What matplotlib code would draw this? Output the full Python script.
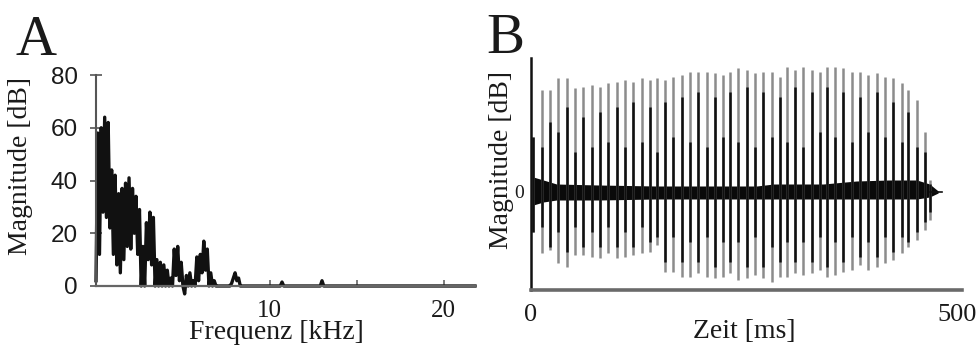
import numpy as np
import matplotlib
matplotlib.use("Agg")
import matplotlib.pyplot as plt

SERIF = "Liberation Serif"
SANS = "Liberation Sans"
TXT = "#1a1a1a"

# (A) magnitude spectrum, 0.1 kHz bins from 0 to 8.5 kHz
spec_db = [2, 58, 12, 60, 28, 64, 26, 62, 22, 44,
           12, 42, 8, 35, 5, 37, 10, 39, 15, 41,
           14, 37, 20, 34, 12, 29, 0, 15, 0, 24,
           10, 28, 8, 26, 0, 10, 0, 9, 0, 8,
           0, 6, 0, 3, 0, 14, 4, 15, 2, 9,
           0, -3, 4, 0, 5, 0, 2, 0, 11, 2,
           12, 5, 17, 6, 14, 0, 5, 0, 2, 0,
           0, 0, 0, 0, 0, 0, 0, 0, 1, 3,
           5, 2, 3, 0, 0, 0]
# sparse high-frequency part
tail_khz = [8.6, 10.6, 10.7, 10.8, 12.9, 13.0, 13.1, 21.8]
tail_db = [0, 0, 1.5, 0, 0, 2, 0, 0]

# (B) oscillogram: pulse times [ms], positive / negative peaks
pulse_ms = [2.3, 12.5, 22.3, 32.1, 41.9, 51.6, 61.4, 71.2, 81.0, 90.8,
            100.5, 110.3, 120.1, 129.9, 139.7, 147.5, 157.3, 167.0, 176.8, 186.6,
            196.4, 206.2, 216.0, 225.7, 233.6, 243.3, 253.1, 262.9, 272.7, 282.5,
            292.3, 300.1, 309.9, 319.6, 329.4, 339.2, 347.0, 356.8, 366.6, 376.4,
            386.2, 395.9, 405.7, 415.5, 425.3, 435.1, 442.9, 452.7, 462.4, 468.3]
pulse_pos = [55, 102, 102, 114, 114, 104, 105, 107, 105, 109,
             110, 112, 110, 114, 112, 114, 112, 115, 117, 120,
             120, 120, 119, 117, 120, 124, 122, 119, 120, 120,
             115, 125, 122, 125, 122, 120, 125, 125, 124, 120,
             120, 117, 119, 115, 114, 109, 102, 92, 60, 12]
pulse_neg = [-40, -61, -58, -71, -75, -63, -63, -65, -66, -61,
             -66, -65, -63, -61, -60, -53, -80, -80, -85, -85,
             -81, -85, -86, -85, -81, -88, -86, -83, -86, -90,
             -85, -85, -81, -83, -81, -78, -85, -83, -80, -78,
             -73, -78, -75, -71, -68, -61, -55, -48, -38, -28]
# dark core of each pulse
core_pos = [55, 45, 70, 60, 85, 40, 75, 45, 80, 50,
            85, 45, 90, 50, 85, 40, 90, 55, 95, 50,
            100, 45, 95, 55, 100, 50, 105, 45, 100, 55,
            95, 50, 105, 45, 100, 60, 105, 55, 100, 50,
            95, 60, 100, 55, 90, 50, 80, 45, 40, 8]
core_neg = [-40, -35, -55, -40, -60, -35, -55, -40, -55, -35,
            -55, -40, -55, -35, -50, -45, -70, -45, -70, -50,
            -70, -45, -75, -50, -70, -50, -75, -45, -75, -55,
            -70, -50, -70, -50, -70, -45, -75, -50, -70, -45,
            -65, -50, -65, -45, -60, -45, -50, -40, -30, -20]
# envelope of the noisy band around zero
band_ms = [2.7, 14.5, 30, 80, 147, 200, 265, 285, 343, 382, 420, 453, 468, 478]
band_hi = [15, 12, 8, 7, 6, 6, 6, 8, 8, 11, 12, 12, 8, 1]
band_lo = [-13, -10, -8, -8, -7, -7, -7, -7, -7, -7, -7, -7, -5, -1]

fig = plt.figure(figsize=(9.8, 3.5), dpi=100)

# ---- Panel A: spectrum
axA = fig.add_axes([96 / 980, 64 / 350, 379 / 980, 211 / 350])
freq = np.round(np.arange(len(spec_db)) * 0.1, 1)
f_all = np.concatenate([freq, tail_khz])
db_all = np.concatenate([spec_db, tail_db])
axA.plot(f_all, db_all, color="#111111", lw=2.4, clip_on=False)

axA.set_xlim(0, 21.8)
axA.set_ylim(0, 80)
for s in ["top", "right"]:
    axA.spines[s].set_visible(False)
axA.spines["left"].set_color("#555555")
axA.spines["bottom"].set_color("#666666")
axA.spines["left"].set_linewidth(1.5)
axA.spines["bottom"].set_linewidth(1.6)

axA.set_yticks([0, 20, 40, 60, 80])
axA.set_xticks([5, 10, 15, 20])
axA.set_xticklabels(["", "10", "", "20"])
axA.tick_params(axis="y", direction="inout", length=8, width=1.2, color="#555555",
                pad=9, labelsize=17.5, labelcolor=TXT)
axA.tick_params(axis="x", direction="in", length=4, width=1.2, color="#666666",
                pad=10, labelsize=18, labelcolor=TXT)
for lab in axA.get_yticklabels():
    lab.set_family(SANS)
for lab in axA.get_xticklabels():
    lab.set_family(SERIF)

axA.set_ylabel("Magnitude [dB]", family=SERIF, fontsize=20, color=TXT)
axA.yaxis.set_label_coords(-0.166, 0.57)
axA.set_xlabel("Frequenz [kHz]", family=SERIF, fontsize=20, color=TXT)
axA.xaxis.set_label_coords(0.475, -0.16)

# ---- Panel B: oscillogram
axB = fig.add_axes([531 / 980, 60 / 350, 431 / 980, 232 / 350])
axB.vlines(pulse_ms, pulse_neg, pulse_pos, color="#8c8c8c", lw=1.8)
axB.vlines(pulse_ms, core_neg, core_pos, color="#101010", lw=1.8)
axB.fill_between(band_ms, band_lo, band_hi, color="#0a0a0a", lw=0)
axB.plot([468, 482], [0, 0], color="#111111", lw=1.2)

axB.set_xlim(0, 506)
axB.set_ylim(-98, 134)
for s in ["top", "right"]:
    axB.spines[s].set_visible(False)
axB.spines["left"].set_color("#111111")
axB.spines["left"].set_linewidth(1.8)
axB.spines["bottom"].set_color("#6a6a6a")
axB.spines["bottom"].set_linewidth(2.6)

axB.set_xticks([0, 500])
axB.set_yticks([0])
axB.tick_params(axis="x", length=0, pad=10, labelsize=19, labelcolor=TXT)
axB.tick_params(axis="y", length=0, pad=5, labelsize=14, labelcolor=TXT)
for lab in axB.get_xticklabels() + axB.get_yticklabels():
    lab.set_family(SERIF)

axB.set_ylabel("Magnitude [dB]", family=SERIF, fontsize=20, color=TXT)
axB.yaxis.set_label_coords(-0.04, 0.56)
axB.set_xlabel("Zeit [ms]", family=SERIF, fontsize=20, color=TXT)
axB.xaxis.set_label_coords(0.494, -0.125)

# panel letters
fig.text(15 / 980, 1 - 55 / 350, "A", family=SERIF, fontsize=41, color=TXT, va="baseline")
fig.text(486 / 980, 1 - 53 / 350, "B", family=SERIF, fontsize=41, color=TXT, va="baseline")

fig.savefig("out.png", dpi=100)
